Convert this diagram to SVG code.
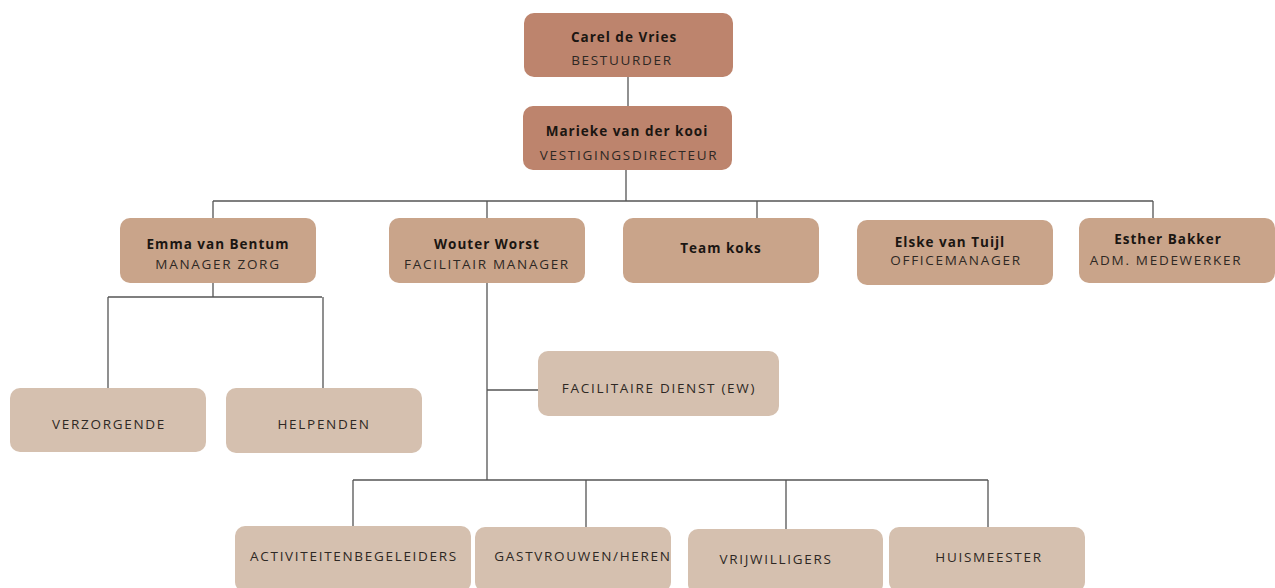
<svg xmlns="http://www.w3.org/2000/svg" width="1275" height="588" viewBox="0 0 1275 588">
<style>
.dk{fill:#bd846d}
.md{fill:#c9a48a}
.lt{fill:#d5c0af}
.nm{font-family:"Open Sans","Liberation Sans",sans-serif;font-weight:700;font-size:13.5px;letter-spacing:1px;fill:#1b1612;text-anchor:middle}
.tt{font-family:"Open Sans","Liberation Sans",sans-serif;font-size:13.5px;letter-spacing:1.7px;fill:#2e2824;text-anchor:middle}
.cn{stroke:#555;stroke-width:1.3;fill:none}
</style>
<rect width="1275" height="588" fill="#fff"/>
<g id="connectors">
<path class="cn" d="M628 77V106"/>
<path class="cn" d="M626 170V201M213 201H1153M213 201V218M487 201V218M757 201V218M1153 201V218"/>
<path class="cn" d="M213 283V297M108 297H322M108 297V388M323 297V388"/>
<path class="cn" d="M487 283V480M487 390H538M353 480H988M353 480V527M586 480V527M786 480V529M988 480V527"/>
</g>
<g id="carel"><rect class="dk" x="524" y="13" width="209" height="64" rx="10"/><text class="nm" x="624" y="42">Carel de Vries</text><text class="tt" x="622" y="65">BESTUURDER</text></g>
<g id="marieke"><rect class="dk" x="523" y="106" width="209" height="64" rx="10"/><text class="nm" x="627" y="136">Marieke van der kooi</text><text class="tt" x="629" y="160">VESTIGINGSDIRECTEUR</text></g>
<g id="emma"><rect class="md" x="120" y="218" width="196" height="65" rx="10"/><text class="nm" x="218" y="249">Emma van Bentum</text><text class="tt" x="218" y="269">MANAGER ZORG</text></g>
<g id="wouter"><rect class="md" x="389" y="218" width="196" height="65" rx="10"/><text class="nm" x="487" y="249">Wouter Worst</text><text class="tt" x="487" y="269">FACILITAIR MANAGER</text></g>
<g id="teamkoks"><rect class="md" x="623" y="218" width="196" height="65" rx="10"/><text class="nm" x="721" y="253">Team koks</text></g>
<g id="elske"><rect class="md" x="857" y="220" width="196" height="65" rx="10"/><text class="nm" x="950" y="247">Elske van Tuijl</text><text class="tt" x="956" y="265">OFFICEMANAGER</text></g>
<g id="esther"><rect class="md" x="1079" y="218" width="196" height="65" rx="10"/><text class="nm" x="1168" y="244">Esther Bakker</text><text class="tt" x="1166" y="265">ADM. MEDEWERKER</text></g>
<g id="verzorgende"><rect class="lt" x="10" y="388" width="196" height="64" rx="10"/><text class="tt" x="109" y="429">VERZORGENDE</text></g>
<g id="helpenden"><rect class="lt" x="226" y="388" width="196" height="65" rx="10"/><text class="tt" x="324" y="429">HELPENDEN</text></g>
<g id="facilitaire"><rect class="lt" x="538" y="351" width="241" height="65" rx="10"/><text class="tt" x="659" y="393">FACILITAIRE DIENST (EW)</text></g>
<g id="activiteiten"><rect class="lt" x="235" y="526" width="236" height="66" rx="10"/><text class="tt" x="354" y="561">ACTIVITEITENBEGELEIDERS</text></g>
<g id="gastvrouwen"><rect class="lt" x="475" y="527" width="196" height="65" rx="10"/><text class="tt" x="583" y="561">GASTVROUWEN/HEREN</text></g>
<g id="vrijwilligers"><rect class="lt" x="688" y="529" width="195" height="65" rx="10"/><text class="tt" x="776" y="564">VRIJWILLIGERS</text></g>
<g id="huismeester"><rect class="lt" x="889" y="527" width="196" height="65" rx="10"/><text class="tt" x="989" y="562">HUISMEESTER</text></g>
</svg>
